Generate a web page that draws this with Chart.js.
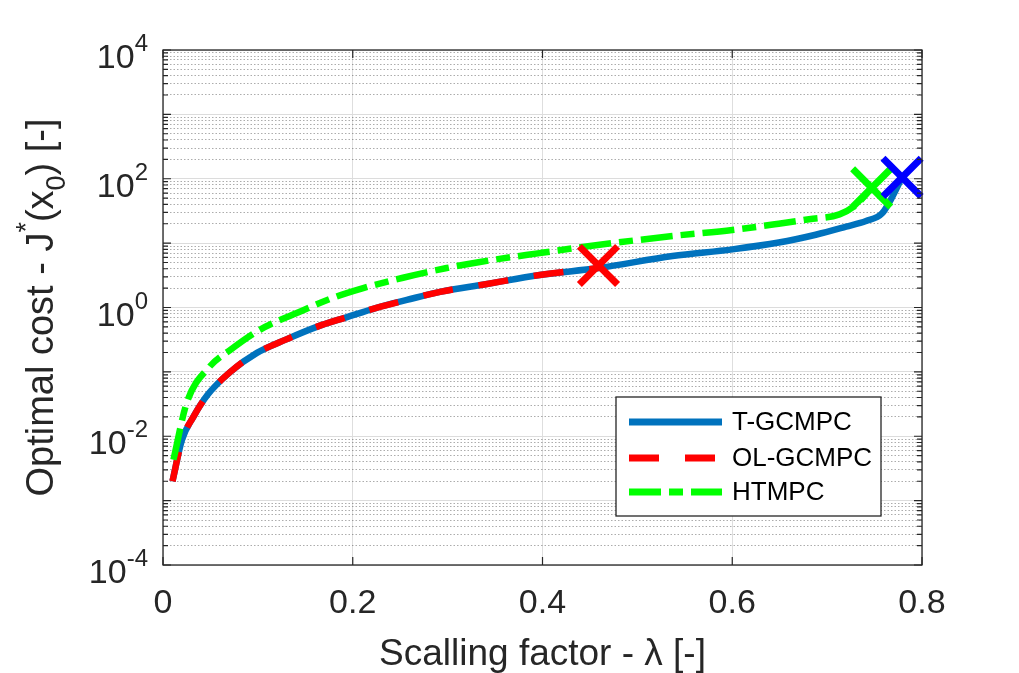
<!DOCTYPE html>
<html>
<head>
<meta charset="utf-8">
<script src="https://cdn.jsdelivr.net/npm/chart.js@4.4.1/dist/chart.umd.min.js"></script>
<style>
  html, body { margin: 0; padding: 0; background: #fff; }
  #wrap { width: 1019px; height: 673px; position: relative; }
</style>
</head>
<body>
<div id="wrap"><canvas id="cost-chart"></canvas></div>
<script>
"use strict";

// global
Chart.defaults.font.family = "Arial, 'Liberation Sans', Helvetica, sans-serif";
Chart.defaults.color = "#262626";

// T-GCMPC
var lambdaT = [0.01, 0.02, 0.032, 0.047, 0.071, 0.099, 0.13, 0.162, 0.194, 0.225, 0.257, 0.292, 0.34, 0.397, 0.459, 0.537, 0.6, 0.649, 0.688, 0.72, 0.741, 0.758, 0.768, 0.779];
var costT = [0.002, 0.0088, 0.02, 0.044, 0.1, 0.197, 0.32, 0.5, 0.71, 0.99, 1.31, 1.75, 2.3, 3.2, 4.1, 6.3, 8.0, 10.2, 13.5, 18, 22, 29, 50, 105];

// OL-GCMPC
var lambdaOL = [0.01, 0.02, 0.032, 0.047, 0.071, 0.099, 0.13, 0.162, 0.194, 0.225, 0.257, 0.292, 0.34, 0.397, 0.459];
var costOL = [0.002, 0.0088, 0.02, 0.044, 0.1, 0.197, 0.32, 0.5, 0.71, 0.99, 1.31, 1.75, 2.3, 3.2, 4.1];

// HTMPC
var lambdaH = [0.011, 0.025, 0.049, 0.071, 0.102, 0.141, 0.179, 0.211, 0.253, 0.299, 0.334, 0.397, 0.45, 0.537, 0.6, 0.649, 0.681, 0.713, 0.731, 0.747];
var costH = [0.0043, 0.033, 0.12, 0.22, 0.45, 0.82, 1.41, 2.0, 2.9, 4.1, 5.1, 7.0, 9.0, 12.9, 16, 20, 23.5, 28, 40, 72];

// end points (x markers)
var endLambda = [0.779, 0.459, 0.747];
var endCost = [105, 4.5, 72];

var seriesNames = ["T-GCMPC", "OL-GCMPC", "HTMPC"];
var seriesColors = ["#0072BD", "#FF0000", "#00FF00"];

// axes
var xTicks = [0, 0.2, 0.4, 0.6, 0.8];
var yDecades = [-4, -3, -2, -1, 0, 1, 2, 3];
var yMantissas = [1, 2, 3, 4, 5, 6, 7, 8, 9];
var yLabelExps = [-4, -2, 0, 2, 4];

function toPoints(xs, ys) {
  return xs.map(function (x, i) {
    return { x: x, y: ys[i] };
  });
}

function isDecade(v) {
  var l = Math.log10(v);
  return Math.abs(l - Math.round(l)) < 1e-9;
}

var dashT = [];
var dashOL = [30, 26];
var dashH = [32, 8, 14, 8];

// y tick labels 10^n, y title with sup/sub, box, inner ticks, legend
var matlabAxes = {
  id: "matlabAxes",
  afterDraw: function (chart) {
    var ctx = chart.ctx;
    var area = chart.chartArea;
    var ys = chart.scales.y;
    var xs = chart.scales.x;
    ctx.save();

    // tick labels on y
    ctx.fillStyle = "#262626";
    ctx.textBaseline = "alphabetic";
    ctx.textAlign = "left";
    yLabelExps.forEach(function (e) {
      var py = ys.getPixelForValue(Math.pow(10, e));
      var expText = String(e);
      ctx.font = "24px Arial, 'Liberation Sans', sans-serif";
      var we = ctx.measureText(expText).width;
      ctx.font = "34px Arial, 'Liberation Sans', sans-serif";
      var wb = ctx.measureText("10").width;
      var right = 148;
      ctx.fillText("10", right - we - wb, py + 18);
      ctx.font = "24px Arial, 'Liberation Sans', sans-serif";
      ctx.fillText(expText, right - we, py + 1);
    });

    // y title
    var parts = [
      { t: "Optimal cost - J", s: 38, dy: 0 },
      { t: "*", s: 27, dy: -18 },
      { t: "(x", s: 38, dy: 0 },
      { t: "0", s: 27, dy: 12 },
      { t: ") [-]", s: 38, dy: 0 }
    ];
    var total = 0;
    parts.forEach(function (p) {
      ctx.font = p.s + "px Arial, 'Liberation Sans', sans-serif";
      p.w = ctx.measureText(p.t).width;
      total += p.w;
    });
    ctx.save();
    ctx.translate(53, (area.top + area.bottom) / 2);
    ctx.rotate(-Math.PI / 2);
    var cx = -total / 2;
    parts.forEach(function (p) {
      ctx.font = p.s + "px Arial, 'Liberation Sans', sans-serif";
      ctx.fillText(p.t, cx, p.dy);
      cx += p.w;
    });
    ctx.restore();

    // box
    ctx.strokeStyle = "#262626";
    ctx.lineWidth = 1.3;
    ctx.setLineDash([]);
    ctx.strokeRect(area.left, area.top, area.right - area.left, area.bottom - area.top);

    // inner ticks
    ctx.lineWidth = 1.2;
    ctx.beginPath();
    ys.ticks.forEach(function (t) {
      var py = ys.getPixelForValue(t.value);
      var len = isDecade(t.value) ? 8 : 5;
      ctx.moveTo(area.left, py);
      ctx.lineTo(area.left + len, py);
      ctx.moveTo(area.right, py);
      ctx.lineTo(area.right - len, py);
    });
    xs.ticks.forEach(function (t) {
      var px = xs.getPixelForValue(t.value);
      ctx.moveTo(px, area.bottom);
      ctx.lineTo(px, area.bottom - 8);
      ctx.moveTo(px, area.top);
      ctx.lineTo(px, area.top + 8);
    });
    ctx.stroke();

    // legend
    var lx = 616, ly = 397, lw = 265, lh = 119;
    ctx.fillStyle = "#fff";
    ctx.fillRect(lx, ly, lw, lh);
    ctx.strokeStyle = "#262626";
    ctx.lineWidth = 1.3;
    ctx.strokeRect(lx, ly, lw, lh);
    var rows = [422, 458, 492];
    chart.data.datasets.forEach(function (ds) {
      if (ds.legendRow === undefined) return;
      var ry = rows[ds.legendRow];
      ctx.strokeStyle = ds.borderColor;
      ctx.lineWidth = 7;
      ctx.lineCap = "butt";
      ctx.setLineDash(ds.borderDash || []);
      ctx.beginPath();
      ctx.moveTo(629, ry);
      ctx.lineTo(722, ry);
      ctx.stroke();
      ctx.setLineDash([]);
      ctx.fillStyle = "#000";
      ctx.font = "26px Arial, 'Liberation Sans', sans-serif";
      ctx.textBaseline = "middle";
      ctx.fillText(ds.label, 732, ry + 1);
    });
    ctx.restore();
  }
};

var ctx1 = document.getElementById("cost-chart").getContext("2d");

var costChart = new Chart(ctx1, {
  type: "line",
  data: {
    datasets: [
      {
        label: seriesNames[0],
        data: toPoints(lambdaT, costT),
        borderColor: seriesColors[0],
        borderWidth: 6.5,
        borderDash: dashT,
        pointRadius: 0,
        cubicInterpolationMode: "monotone",
        order: 6,
        legendRow: 0,
      },
      {
        label: seriesNames[1],
        data: toPoints(lambdaOL, costOL),
        borderColor: seriesColors[1],
        borderWidth: 6.5,
        borderDash: dashOL,
        pointRadius: 0,
        cubicInterpolationMode: "monotone",
        order: 5,
        legendRow: 1,
      },
      {
        label: seriesNames[2],
        data: toPoints(lambdaH, costH),
        borderColor: seriesColors[2],
        borderWidth: 6.5,
        borderDash: dashH,
        pointRadius: 0,
        cubicInterpolationMode: "monotone",
        order: 4,
        legendRow: 2,
      },
      {
        label: "end HTMPC",
        data: [{ x: endLambda[2], y: endCost[2] }],
        showLine: false,
        pointStyle: "crossRot",
        pointRadius: 27,
        pointHoverRadius: 27,
        pointBorderWidth: 7,
        borderColor: seriesColors[2],
        clip: false,
        order: 3,
      },
      {
        label: "end OL-GCMPC",
        data: [{ x: endLambda[1], y: endCost[1] }],
        showLine: false,
        pointStyle: "crossRot",
        pointRadius: 27,
        pointHoverRadius: 27,
        pointBorderWidth: 7,
        borderColor: seriesColors[1],
        clip: false,
        order: 2,
      },
      {
        label: "end T-GCMPC",
        data: [{ x: endLambda[0], y: endCost[0] }],
        showLine: false,
        pointStyle: "crossRot",
        pointRadius: 27,
        pointHoverRadius: 27,
        pointBorderWidth: 7,
        borderColor: "#0000FF",
        clip: false,
        order: 1,
      },
    ],
  },
  options: {
    responsive: true,
    maintainAspectRatio: false,
    animation: false,
    events: [],
    layout: {
      padding: { top: 50, right: 97, left: 0, bottom: 0 },
    },
    plugins: {
      legend: { display: false },
      tooltip: { enabled: false },
    },
    scales: {
      x: {
        type: "linear",
        min: 0,
        max: 0.8,
        afterBuildTicks: function (scale) {
          scale.ticks = xTicks.map(function (v) {
            return { value: v };
          });
        },
        afterFit: function (scale) {
          scale.height = 108;
        },
        grid: {
          color: "#dedede",
          lineWidth: 1,
          drawTicks: false,
        },
        border: { display: false },
        ticks: {
          font: { size: 34 },
          color: "#262626",
          padding: 18,
          maxRotation: 0,
          callback: function (value) {
            return value === 0 ? "0" : value.toFixed(1);
          },
        },
        title: {
          display: true,
          text: "Scalling factor - \u03BB [-]",
          color: "#262626",
          font: { size: 37, lineHeight: 1 },
          padding: { top: 0, bottom: 0 },
        },
      },
      y: {
        type: "logarithmic",
        min: 1e-4,
        max: 1e4,
        afterBuildTicks: function (scale) {
          var t = [];
          yDecades.forEach(function (d) {
            yMantissas.forEach(function (m) {
              t.push({ value: m * Math.pow(10, d) });
            });
          });
          t.push({ value: 1e4 });
          scale.ticks = t;
        },
        afterFit: function (scale) {
          scale.width = 163;
        },
        grid: {
          drawTicks: false,
          lineWidth: 1,
          color: function (c) {
            return c.tick && isDecade(c.tick.value) ? "#dcdcdc" : "rgba(38,38,38,0.38)";
          },
        },
        border: {
          display: false,
          dash: function (c) {
            return c.tick && isDecade(c.tick.value) ? [] : [1.5, 2];
          },
        },
        ticks: { display: false },
      },
    },
  },
  plugins: [matlabAxes],
});
</script>
</body>
</html>
